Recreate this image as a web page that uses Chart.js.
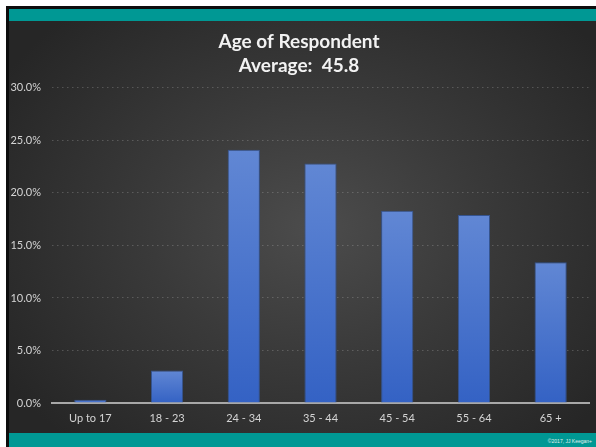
<!DOCTYPE html>
<html>
<head>
<meta charset="utf-8">
<script src="https://cdn.jsdelivr.net/npm/chart.js@4/dist/chart.umd.min.js"></script>
<style>
  html, body { margin: 0; padding: 0; background: #ffffff; }
  #slide {
    position: relative; width: 596px; height: 447px; overflow: hidden; background: #ffffff;
  }
  #frame {
    position: absolute; left: 6px; top: 6px; right: 0; bottom: 0; background: #0d0d0d;
  }
  #panel {
    position: absolute; left: 9px; top: 21px; width: 587px; height: 412px;
    background: radial-gradient(ellipse 62% 70% at 52% 50%, #4c4c4c 0%, #3a3a3a 45%, #262626 100%);
  }
  #topbar { position: absolute; left: 9px; top: 9px; width: 587px; height: 12px; background: #009894; }
  #bottombar { position: absolute; left: 9px; top: 433px; width: 587px; height: 14px; background: #009894; }
  #credit {
    position: absolute; right: 4px; top: 438px; font: 5px "Liberation Sans", sans-serif; color: #e0f0ef;
  }
  #chartbox { position: absolute; left: 9px; top: 21px; width: 587px; height: 412px; }
</style>
</head>
<body>
<div id="slide">
  <div id="frame"></div>
  <div id="topbar"></div>
  <div id="panel"></div>
  <div id="chartbox"><canvas id="c" width="587" height="412"></canvas></div>
  <div id="bottombar"></div>
  <div id="credit">©2017, JJ Keegan+</div>
</div>
<script>
// Age groups and share of respondents (percent)
const ageGroups = ["Up to 17", "18 - 23", "24 - 34", "35 - 44", "45 - 54", "55 - 64", "65 +"];
const respondentShare = [0.3, 3.1, 24.1, 22.8, 18.3, 17.9, 13.4];
const titleLines = ["Age of Respondent", "Average:  45.8"];
const yMax = 30;
const yStep = 5;

const fontFamily = "Lato, 'Open Sans', sans-serif";

// Per-bar vertical gradient: lighter at the top of each bar
function barFill(ctx) {
  const chart = ctx.chart;
  const area = chart.chartArea;
  if (!area || ctx.parsed === undefined) return "#4a72c9";
  const y = chart.scales.y;
  const top = y.getPixelForValue(ctx.parsed.y);
  const bottom = y.getPixelForValue(0);
  if (!isFinite(top) || bottom - top < 1) return "#5a80d0";
  const g = chart.ctx.createLinearGradient(0, top, 0, bottom);
  g.addColorStop(0, "#6187d4");
  g.addColorStop(1, "#3462c4");
  return g;
}

new Chart(document.getElementById("c"), {
  type: "bar",
  data: {
    labels: ageGroups,
    datasets: [{
      data: respondentShare,
      backgroundColor: barFill,
      borderColor: "#34538f",
      borderWidth: 1,
      barPercentage: 0.42,
      categoryPercentage: 1.0
    }]
  },
  options: {
    responsive: false,
    animation: false,
    layout: { padding: { left: 0, right: 7, top: 0, bottom: 0 } },
    plugins: {
      legend: { display: false },
      tooltip: { enabled: false },
      title: {
        display: true,
        text: titleLines,
        color: "#f2f2f2",
        font: { family: fontFamily, size: 19, weight: "bold", lineHeight: 1.26 },
        padding: { top: 9, bottom: 10 }
      }
    },
    scales: {
      x: {
        grid: { display: false, drawTicks: false },
        border: { display: true, color: "#a8a8a8", width: 2 },
        ticks: { color: "#d4d4d4", font: { family: fontFamily, size: 11 }, padding: 9 },
        afterFit: (s) => { s.height = 30; }
      },
      y: {
        min: 0,
        max: yMax,
        grid: {
          color: "rgba(200,200,200,0.26)",
          drawTicks: false,
          lineWidth: 1
        },
        border: { display: false, dash: [1.5, 3.5] },
        ticks: {
          stepSize: yStep,
          color: "#d4d4d4",
          font: { family: fontFamily, size: 11 },
          padding: 11,
          callback: (v) => v.toFixed(1) + "%"
        },
        afterFit: (s) => { s.width = 43; }
      }
    }
  }
});
</script>
</body>
</html>
